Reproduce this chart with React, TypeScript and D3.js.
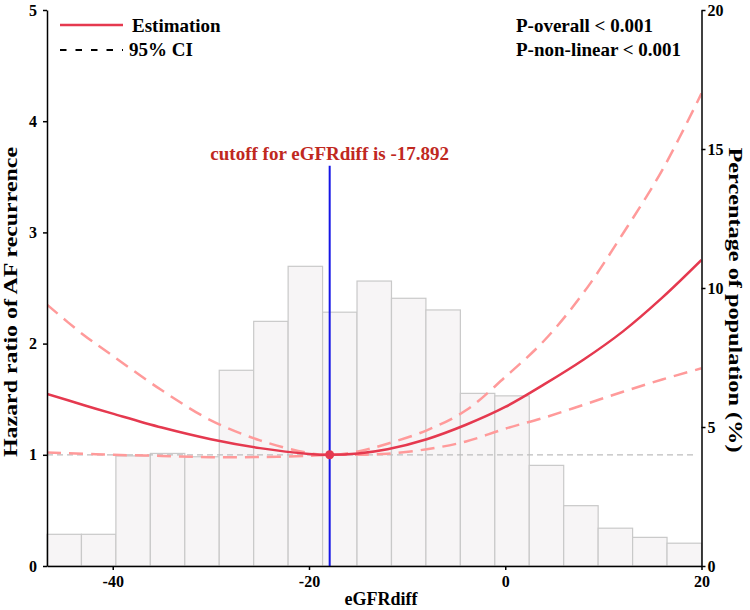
import React, { useEffect, useRef } from "react";
import * as d3 from "d3";

// histogram (% of population), 19 equal bins over the x range
const histStart = -46.7;
const histWidth = 3.5105;
const histPct = [1.14, 1.14, 3.96, 4.05, 3.93, 7.04, 8.8, 10.78, 9.13, 10.25, 9.63, 9.21, 6.21, 6.12, 3.62, 2.17, 1.36, 1.03, 0.82];

// RCS curve samples
const curveX = [-46.7, -43, -40, -35, -30, -25, -20, -17.892, -15, -12, -8, -4, 0, 4, 8, 12, 16, 20];
const hrEst = [1.548, 1.448, 1.37, 1.245, 1.14, 1.06, 1.008, 1.0, 1.012, 1.05, 1.14, 1.27, 1.43, 1.635, 1.857, 2.11, 2.413, 2.752];
const hrUpper = [2.35, 2.08, 1.89, 1.58, 1.31, 1.13, 1.015, 1.0, 1.03, 1.1, 1.22, 1.4, 1.7, 2.03, 2.46, 2.99, 3.56, 4.25];
const hrLower = [1.02, 1.01, 1.0, 0.99, 0.978, 0.98, 0.99, 1.0, 1.0, 1.01, 1.05, 1.12, 1.235, 1.335, 1.45, 1.567, 1.677, 1.778];

const cutoff = -17.892;
const xTicks = [-40, -20, 0, 20];
const yTicks = [0, 1, 2, 3, 4, 5];
const y2Ticks = [0, 5, 10, 15, 20];

const FONT = "'Liberation Serif', 'Times New Roman', serif";

const RcsChart = () => {
  const svgRef = useRef<SVGSVGElement>(null);

  useEffect(() => {
    const svg = d3.select(svgRef.current);
    svg.selectAll("*").remove();

    const width = 750, height = 610;
    const left = 47, right = 701.5, top = 10, bottom = 566;

    const x = d3.scaleLinear().domain([-46.7, 20]).range([left, right]);
    const y = d3.scaleLinear().domain([0, 5]).range([bottom, top]);
    const y2 = d3.scaleLinear().domain([0, 20]).range([bottom, top]);

    svg.append("rect").attr("width", width).attr("height", height).attr("fill", "white");

    // histogram
    svg.append("g")
      .selectAll("rect")
      .data(histPct)
      .join("rect")
      .attr("x", (d, i) => x(histStart + i * histWidth))
      .attr("width", x(histStart + histWidth) - x(histStart))
      .attr("y", (d) => y2(d))
      .attr("height", (d) => y2(0) - y2(d))
      .attr("fill", "#f7f5f6")
      .attr("stroke", "#c9c9c9")
      .attr("stroke-width", 1.2);

    // reference line HR = 1
    svg.append("line")
      .attr("x1", x(-46.7)).attr("x2", x(19.4))
      .attr("y1", y(1)).attr("y2", y(1))
      .attr("stroke", "#bdbdbd")
      .attr("stroke-width", 1.2)
      .attr("stroke-dasharray", "6,4");

    svg.append("clipPath").attr("id", "plotclip")
      .append("rect").attr("x", left).attr("y", top)
      .attr("width", right - left).attr("height", bottom - top);

    const line = (vals: number[]) =>
      d3.line<number>()
        .x((d, i) => x(curveX[i]))
        .y((d) => y(d))
        .curve(d3.curveCatmullRom.alpha(0.5))(vals);

    const curves = svg.append("g").attr("clip-path", "url(#plotclip)");
    [hrUpper, hrLower].forEach((vals) => {
      curves.append("path")
        .attr("d", line(vals))
        .attr("fill", "none")
        .attr("stroke", "#ff9a9a")
        .attr("stroke-width", 2.5)
        .attr("stroke-dasharray", "14,8");
    });
    curves.append("path")
      .attr("d", line(hrEst))
      .attr("fill", "none")
      .attr("stroke", "#e5394f")
      .attr("stroke-width", 2.5);

    // cutoff
    svg.append("line")
      .attr("x1", x(cutoff)).attr("x2", x(cutoff))
      .attr("y1", y(0)).attr("y2", y(3.6))
      .attr("stroke", "#1515e6")
      .attr("stroke-width", 2);
    svg.append("circle")
      .attr("cx", x(cutoff)).attr("cy", y(1)).attr("r", 4.5)
      .attr("fill", "#e5394f");
    svg.append("text")
      .attr("x", x(cutoff)).attr("y", y(3.6) - 6)
      .attr("text-anchor", "middle")
      .style("font-family", FONT).style("font-size", "19px").style("font-weight", "bold")
      .attr("fill", "#c0281e")
      .text(`cutoff for eGFRdiff is ${cutoff}`);

    // axes
    const styleAxis = (g: any) => {
      g.attr("font-family", null).attr("font-size", null);
      g.select(".domain").attr("stroke", "black").attr("stroke-width", 1.5);
      g.selectAll(".tick line").attr("stroke", "black").attr("stroke-width", 1.5);
      g.selectAll("text")
        .attr("fill", "black")
        .style("font-family", FONT).style("font-size", "16px").style("font-weight", "bold");
    };
    const fmt = (d: any) => `${d}`;
    svg.append("g").attr("transform", `translate(0,${bottom})`)
      .call(d3.axisBottom(x).tickValues(xTicks).tickFormat(fmt).tickSize(4).tickSizeOuter(0).tickPadding(6))
      .call(styleAxis);
    svg.append("g").attr("transform", `translate(${left},0)`)
      .call(d3.axisLeft(y).tickValues(yTicks).tickFormat(fmt).tickSize(4).tickSizeOuter(0).tickPadding(6))
      .call(styleAxis);
    svg.append("g").attr("transform", `translate(${right},0)`)
      .call(d3.axisRight(y2).tickValues(y2Ticks).tickFormat(fmt).tickSize(4).tickSizeOuter(0).tickPadding(2))
      .call(styleAxis);

    // axis titles
    const title = (sel: any) =>
      sel.style("font-family", FONT).style("font-weight", "bold")
        .attr("text-anchor", "middle").attr("fill", "black");
    svg.append("text").attr("x", 381).attr("y", 605)
      .style("font-size", "18px").text("eGFRdiff").call(title);
    svg.append("text").attr("transform", `translate(17,302) rotate(-90)`)
      .style("font-size", "19px")
      .attr("textLength", 310).attr("lengthAdjust", "spacingAndGlyphs")
      .text("Hazard ratio of AF recurrence").call(title);
    svg.append("text").attr("transform", `translate(729,300) rotate(90)`)
      .style("font-size", "19px")
      .attr("textLength", 305).attr("lengthAdjust", "spacingAndGlyphs")
      .text("Percentage of population (%)").call(title);

    // legend
    svg.append("line").attr("x1", 60).attr("x2", 123).attr("y1", 25).attr("y2", 25)
      .attr("stroke", "#e5394f").attr("stroke-width", 2.5);
    svg.append("line").attr("x1", 60).attr("x2", 123).attr("y1", 50).attr("y2", 50)
      .attr("stroke", "black").attr("stroke-width", 2).attr("stroke-dasharray", "6.5,9");
    const legText = (sel: any) =>
      sel.style("font-family", FONT).style("font-size", "19px").style("font-weight", "bold").attr("fill", "black");
    svg.append("text").attr("x", 132).attr("y", 32).text("Estimation").call(legText);
    svg.append("text").attr("x", 129).attr("y", 56).text("95% CI").call(legText);
    svg.append("text").attr("x", 516).attr("y", 32).text("P-overall < 0.001").call(legText);
    svg.append("text").attr("x", 516).attr("y", 56).text("P-non-linear < 0.001").call(legText);
  }, []);

  return <svg ref={svgRef} width={750} height={610} style={{ position: "absolute", left: 0, top: 0 }}></svg>;
};

export default function App() {
  return <RcsChart />;
}
